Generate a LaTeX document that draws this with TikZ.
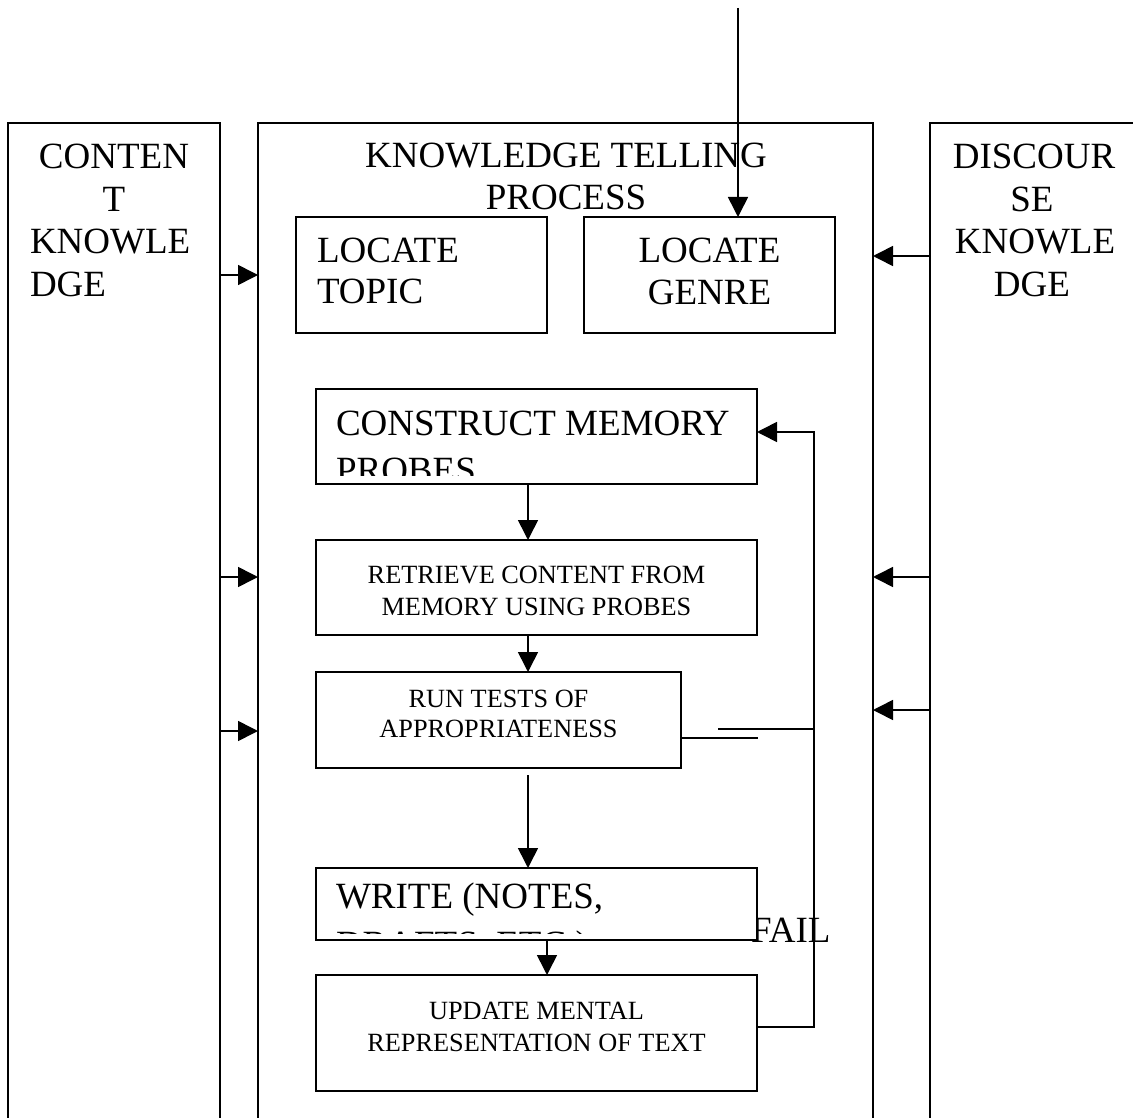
\documentclass[tikz,border=0pt]{standalone}
\usepackage{fontspec}
\setmainfont{Liberation Serif}
\usetikzlibrary{arrows.meta}
\begin{document}
\begin{tikzpicture}[x=1pt,y=-1pt,
  frame/.style={draw, line width=1.6pt, fill=white, rectangle, inner sep=0pt, outer sep=0pt, anchor=north west},
  bigtxt/.style={font=\fontsize{37pt}{42.5pt}\selectfont, inner sep=0pt, outer sep=0pt},
  smalltxt/.style={font=\fontsize{26.3pt}{32pt}\selectfont, inner sep=0pt, outer sep=0pt},
  link/.style={line width=1.6pt},
  arr/.style={link, -{Triangle[length=20pt,width=20pt]}},
]
\useasboundingbox (0,0) rectangle (1133,1118);
\clip (0,0) rectangle (1133,1118);

% three tall columns, open at the bottom
\node[frame, minimum width=212pt, minimum height=1050pt] (ck) at (8,123) {};
\node[frame, minimum width=615pt, minimum height=1050pt] (ktp) at (258,123) {};
\node[frame, minimum width=260pt, minimum height=1050pt] (dk) at (930,123) {};

\node[bigtxt, anchor=base] (ck1) at (114,169) {CONTEN};
\node[bigtxt, anchor=base] (ck2) at (114,212) {T};
\node[bigtxt, anchor=base west] (ck3) at (30,254) {KNOWLE};
\node[bigtxt, anchor=base west] (ck4) at (30,297) {DGE};

\node[bigtxt, anchor=base] (dk1) at (1034,169) {DISCOUR};
\node[bigtxt, anchor=base] (dk2) at (1032,212) {SE};
\node[bigtxt, anchor=base] (dk3) at (1035,254) {KNOWLE};
\node[bigtxt, anchor=base] (dk4) at (1032,297) {DGE};

\node[bigtxt, anchor=base] (ktp1) at (566,168) {KNOWLEDGE TELLING};
\node[bigtxt, anchor=base] (ktp2) at (566,210) {PROCESS};

% process steps
\node[frame, minimum width=251pt, minimum height=116pt] (topic) at (296,217) {};
\node[bigtxt, anchor=base west] (topic1) at (317,262) {LOCATE};
\node[bigtxt, anchor=base west] (topic2) at (317,304) {TOPIC};

\node[frame, minimum width=251pt, minimum height=116pt] (genre) at (584,217) {};
\node[bigtxt, anchor=base] (genre1) at (709.5,262) {LOCATE};
\node[bigtxt, anchor=base] (genre2) at (709.5,305) {GENRE};

\node[frame, minimum width=441pt, minimum height=95pt] (probe) at (316,389) {};
\begin{scope}
  \clip (probe.north west) rectangle ([yshift=9pt]probe.south east);
  \node[bigtxt, anchor=base west] (probe1) at (336,435) {CONSTRUCT MEMORY};
  \node[bigtxt, anchor=base west] (probe2) at (336,482) {PROBES};
\end{scope}

\node[frame, minimum width=441pt, minimum height=95pt] (retr) at (316,540) {};
\node[smalltxt, anchor=base] (retr1) at (536.5,583) {RETRIEVE CONTENT FROM};
\node[smalltxt, anchor=base] (retr2) at (536.5,615) {MEMORY USING PROBES};

\node[frame, minimum width=365pt, minimum height=96pt] (tests) at (316,672) {};
\node[smalltxt, anchor=base] (tests1) at (498.5,707) {RUN TESTS OF};
\node[smalltxt, anchor=base] (tests2) at (498.5,737) {APPROPRIATENESS};

\node[bigtxt, anchor=base west] (fail) at (751,942) {FAIL};

\node[frame, minimum width=441pt, minimum height=72pt] (write) at (316,868) {};
\begin{scope}
  \clip (write.north west) rectangle ([yshift=7pt]write.south east);
  \node[bigtxt, anchor=base west] (write1) at (336,908) {WRITE (NOTES,};
  \node[bigtxt, anchor=base west] (write2) at (336,956) {DRAFTS, ETC.)};
\end{scope}

\node[frame, minimum width=441pt, minimum height=116pt] (upd) at (316,975) {};
\node[smalltxt, anchor=base] (upd1) at (536.5,1019) {UPDATE MENTAL};
\node[smalltxt, anchor=base] (upd2) at (536.5,1051) {REPRESENTATION OF TEXT};

% connectors
\coordinate (src) at (738,8);
\draw[arr] (src) -- (src |- genre.north);

\coordinate (l1) at (220,275);
\coordinate (l2) at (220,577);
\coordinate (l3) at (220,731);
\foreach \p in {l1,l2,l3} \draw[arr] (ck.east |- \p) -- (ktp.west |- \p);

\coordinate (r1) at (930,256);
\coordinate (r2) at (930,577);
\coordinate (r3) at (930,710);
\foreach \p in {r1,r2,r3} \draw[arr] (dk.west |- \p) -- (ktp.east |- \p);

\coordinate (colA) at (528,0);
\draw[arr] (probe.south -| colA) -- (retr.north -| colA);
\draw[arr] (retr.south -| colA) -- (tests.north -| colA);
\coordinate (w0) at (528,775);
\draw[arr] (w0) -- (w0 |- write.north);
\coordinate (colB) at (547,0);
\draw[arr] (write.south -| colB) -- (upd.north -| colB);

% failure loop back to the probes
\coordinate (fbx) at (814,0);
\coordinate (fbin) at (0,432);
\coordinate (fbout) at (0,1027);
\draw[arr] (upd.east |- fbout) -| (fbx |- fbin) -- (probe.east |- fbin);

\coordinate (t1) at (758,738);
\draw[link] (tests.east |- t1) -- (t1);
\coordinate (t2) at (718,729);
\draw[link] (t2) -- (fbx |- t2);
\end{tikzpicture}
\end{document}
